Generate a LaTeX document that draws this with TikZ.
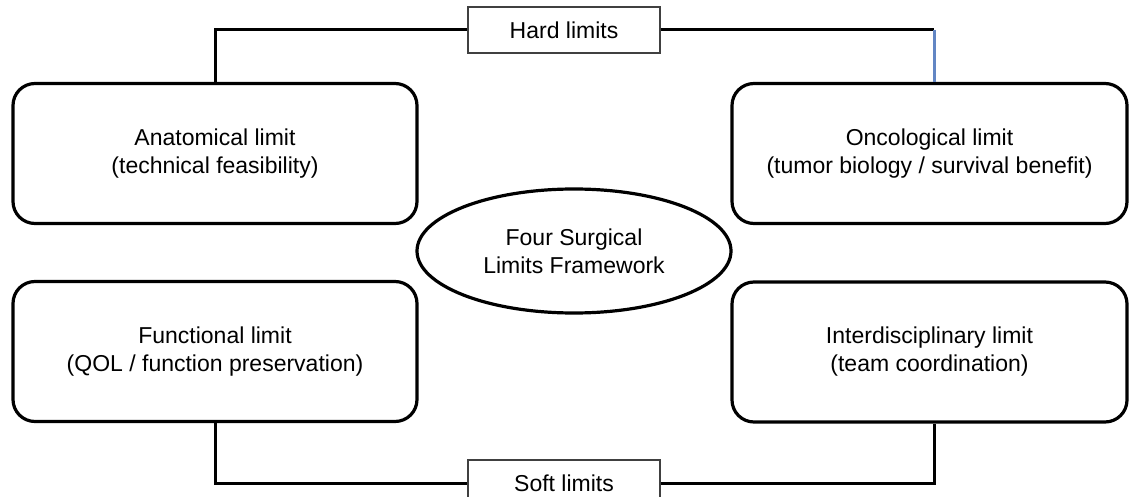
\documentclass[tikz,border=0pt]{standalone}
\usepackage{fontspec}
\setmainfont{Liberation Sans}
\usetikzlibrary{shapes.geometric}
\definecolor{linkblue}{RGB}{98,134,196}
\begin{document}
\begin{tikzpicture}[x=1pt,y=-1pt,
  limitbox/.style={draw=black,line width=3.2pt,rounded corners=22pt,fill=white,
    minimum width=404pt,minimum height=140pt,inner sep=0pt,align=center,
    font=\fontsize{23}{28}\selectfont},
  tagbox/.style={draw=black!75,line width=1.4pt,fill=white,
    minimum width=192pt,minimum height=46pt,inner sep=0pt,
    font=\fontsize{23}{28}\selectfont},
  hub/.style={draw=black,line width=3.2pt,ellipse,fill=white,
    minimum width=314pt,minimum height=124pt,inner sep=0pt,align=center,
    font=\fontsize{23}{28}\selectfont},
  link/.style={line width=3pt}]
\useasboundingbox (0,0) rectangle (1131,497);
\clip (0,0) rectangle (1131,497);
\node[limitbox] (anat) at (215,153.5) {Anatomical limit\\(technical feasibility)};
\node[limitbox,minimum width=395pt] (onc) at (929.5,153.5) {Oncological limit\\(tumor biology / survival benefit)};
\node[limitbox] (func) at (215,351.5) {Functional limit\\(QOL / function preservation)};
\node[limitbox,minimum width=395pt] (inter) at (929.5,352) {Interdisciplinary limit\\(team coordination)};
\node[hub] (hub) at (574,251) {Four Surgical\\Limits Framework};
\node[tagbox] (hard) at (564,30) {Hard limits};
\node[tagbox] (soft) at (564,483) {Soft limits};
\coordinate (hr) at (934,30);
\coordinate (sr) at (934,483);
\draw[link] (anat.north) |- (hard.west);
\draw[link] (hard.east) -- (hr);
\draw[link,color=linkblue] (hr) -- (hr |- onc.north);
\draw[link] (func.south) |- (soft.west);
\draw[link] (soft.east) -| (inter.south -| sr);
\end{tikzpicture}
\end{document}
